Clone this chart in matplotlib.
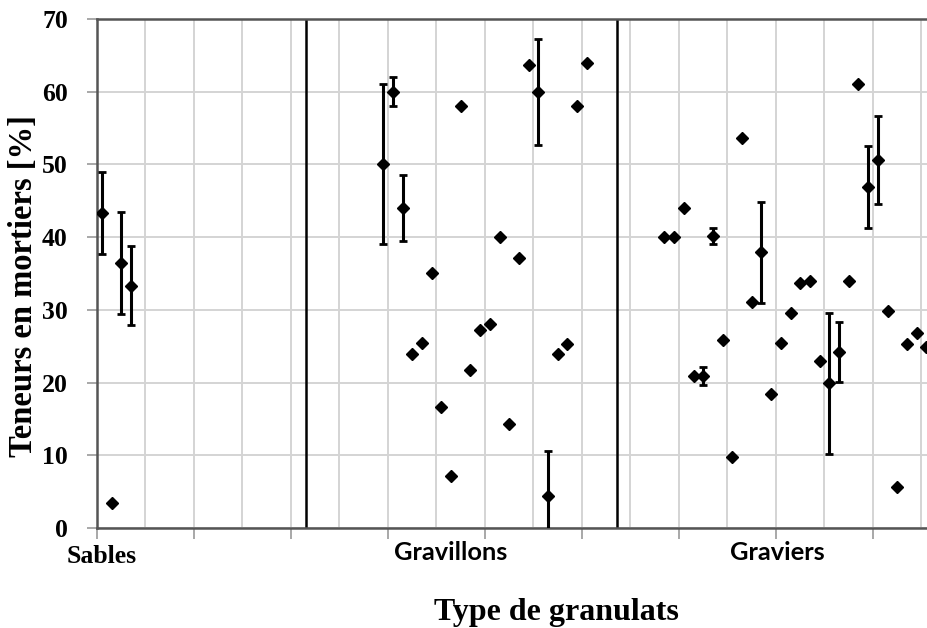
import numpy as np
import matplotlib
matplotlib.use("Agg")
import matplotlib.pyplot as plt
from matplotlib.transforms import blended_transform_factory

# ---- data (x = slot number along the category axis) ----
sables_x = [0, 1, 2, 3]
sables_y = [43.3, 3.4, 36.4, 33.3]
sables_err = [5.6, 0, 7.0, 5.45]

gravillons_x = list(range(29, 51))
gravillons_y = [50.0, 60.0, 44.0, 23.9, 25.4, 35.1, 16.6, 7.2, 58.0, 21.7, 27.2,
                28.1, 40.0, 14.3, 37.1, 63.7, 60.0, 4.4, 23.9, 25.3, 58.0, 64.0]
gravillons_err = [11.0, 2.0, 4.5, 0, 0, 0, 0, 0, 0, 0, 0,
                  0, 0, 0, 0, 0, 7.3, 6.2, 0, 0, 0, 0]

graviers_x = list(range(58, 86))
graviers_y = [40.0, 40.0, 44.0, 20.9, 20.9, 40.1, 25.9, 9.8, 53.7, 31.1, 37.9,
              18.4, 25.5, 29.5, 33.7, 34.0, 22.9, 19.9, 24.2, 33.9, 61.0, 46.9,
              50.6, 29.8, 5.6, 25.3, 26.8, 24.9]
graviers_err = [0, 0, 0, 0, 1.3, 1.1, 0, 0, 0, 0, 7.0,
                0, 0, 0, 0, 0, 0, 9.7, 4.1, 0, 0, 5.6,
                6.1, 0, 0, 0, 0, 0]

group_labels = ["Sables", "Gravillons", "Graviers"]
group_label_pos = [0.5, 36.5, 70.1]
separators = [21.55, 53.6]
y_ticks = [0, 10, 20, 30, 40, 50, 60, 70]

W, H = 928, 628
fig = plt.figure(figsize=(W / 100, H / 100), dpi=100)
left, right, top, bottom = 97, 931.2, 19, 528
ax = fig.add_axes([left / W, 1 - bottom / H, (right - left) / W, (bottom - top) / H])

ax.set_xlim(0, 86)
ax.set_ylim(0, 70)

# grid
ax.set_xticks(np.arange(0, 86, 5), minor=True)
ax.set_xticks(np.arange(0, 86, 10))
ax.set_yticks(y_ticks)
ax.grid(True, which="both", axis="x", color="#d4d4d4", lw=1.4, zorder=0)
ax.grid(True, which="major", axis="y", color="#d4d4d4", lw=1.4, zorder=0)
ax.set_axisbelow(True)

for s in separators:
    ax.axvline(s, color="black", lw=1.8, zorder=1)

for xs, ys, es in [(sables_x, sables_y, sables_err),
                   (gravillons_x, gravillons_y, gravillons_err),
                   (graviers_x, graviers_y, graviers_err)]:
    xs = np.array(xs) + 0.5
    ys = np.array(ys)
    es = np.array(es, dtype=float)
    m = es > 0
    ax.errorbar(xs[m], ys[m], yerr=es[m], fmt="none", ecolor="black",
                elinewidth=2.2, capsize=3, capthick=2.0, zorder=3)
    ax.plot(xs, ys, ls="none", marker="D", ms=6.4, color="black", zorder=4)

for sp in ["left", "bottom", "top"]:
    ax.spines[sp].set_color("#555555")
    ax.spines[sp].set_linewidth(1.8)
ax.spines["right"].set_visible(False)

ax.tick_params(axis="x", which="major", length=8, width=1.2, color="#999999",
               labelbottom=False)
ax.tick_params(axis="x", which="minor", length=0)
ax.tick_params(axis="y", length=7, width=1.2, color="#999999", pad=14)
ax.set_yticklabels([str(v) for v in y_ticks], fontfamily="Liberation Serif",
                   fontweight="bold", fontsize=18.5)

trans = blended_transform_factory(ax.transData, fig.transFigure)
ax.text(group_label_pos[0], 1 - 563 / H, group_labels[0], transform=trans,
        ha="center", va="baseline", fontfamily="Liberation Serif",
        fontweight="bold", fontsize=18.5)
for lab, pos in zip(group_labels[1:], group_label_pos[1:]):
    ax.text(pos, 1 - 560 / H, lab, transform=trans, ha="center", va="baseline",
            fontfamily="Lato", fontweight="bold", fontsize=18.3)

fig.text(556 / W, 1 - 620 / H, "Type de granulats", ha="center", va="baseline",
         fontfamily="Liberation Serif", fontweight="bold", fontsize=23)
fig.text(24 / W, 1 - 286 / H, "Teneurs en mortiers [%]", ha="center",
         va="center", rotation=90, fontfamily="Liberation Serif",
         fontweight="bold", fontsize=23.5)

fig.savefig("out.png", dpi=100)
